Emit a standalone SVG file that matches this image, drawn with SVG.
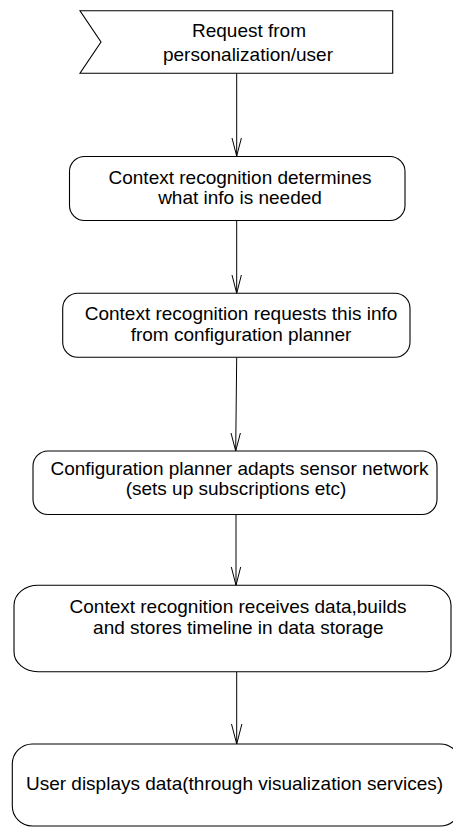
<svg xmlns="http://www.w3.org/2000/svg" width="453" height="827" viewBox="0 0 453 827">
<style>
.box{fill:#fff;stroke:#000;stroke-width:1.1}
.t{font-family:"Liberation Sans",Arial,sans-serif;font-size:19px;fill:#000;text-anchor:middle}
.c{fill:none;stroke:#000;stroke-width:1}
</style>
<g id="connectors">
<path class="c" d="M236.7,73.3 L236.7,156"/>
<path class="c" d="M236.7,220 L236.7,293.3"/>
<path class="c" d="M236.7,357.3 L235.7,451"/>
<path class="c" d="M236,514.5 L236,585.3"/>
<path class="c" d="M236.7,672 L236.7,744"/>
<path class="c" d="M232,138 L236.7,156 L241.4,138"/>
<path class="c" d="M232,275 L236.7,293.3 L241.4,275"/>
<path class="c" d="M231,433 L235.7,451 L240.4,433"/>
<path class="c" d="M231.3,567 L236,585.3 L240.7,567"/>
<path class="c" d="M231.5,724 L236.7,744 L241.9,724"/>
</g>
<g id="n1">
<path class="box" d="M80,10.7 L392.7,10.7 L392.7,73.3 L80,73.3 L101,42 Z"/>
<text class="t" x="249" y="37">Request from</text>
<text class="t" x="248" y="60.7">personalization/user</text>
</g>
<g id="n2">
<rect class="box" x="69.5" y="156.5" width="335.5" height="64" rx="15" ry="15"/>
<text class="t" x="240" y="184">Context recognition determines</text>
<text class="t" x="240" y="204.3">what info is needed</text>
</g>
<g id="n3">
<rect class="box" x="62.7" y="293.3" width="347.3" height="64" rx="15" ry="15"/>
<text class="t" x="241" y="320">Context recognition requests this info</text>
<text class="t" x="241" y="341">from configuration planner</text>
</g>
<g id="n4">
<rect class="box" x="33" y="451" width="404" height="63.5" rx="15" ry="15"/>
<text class="t" x="239.5" y="475">Configuration planner adapts sensor network</text>
<text class="t" x="236" y="494.5">(sets up subscriptions etc)</text>
</g>
<g id="n5">
<rect class="box" x="14" y="585.3" width="437" height="86.5" rx="24" ry="20"/>
<text class="t" x="238" y="613.3">Context recognition receives data,builds</text>
<text class="t" x="238.3" y="634.3">and stores timeline in data storage</text>
</g>
<g id="n6">
<rect class="box" x="12.3" y="744" width="448" height="82" rx="20" ry="20"/>
<text class="t" x="234.5" y="790">User displays data(through visualization services)</text>
</g>
</svg>
